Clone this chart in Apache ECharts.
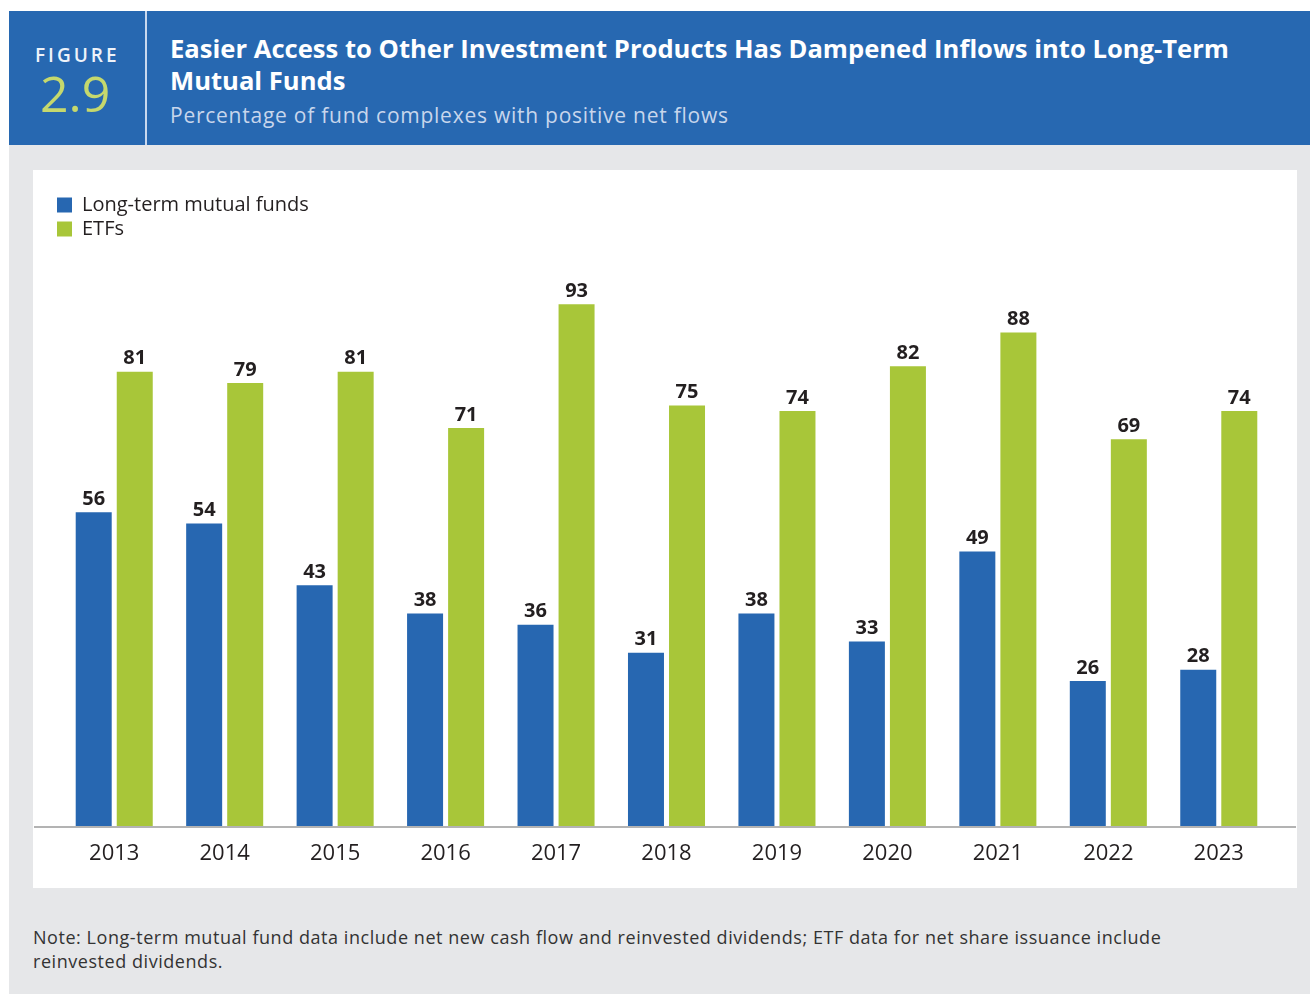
<!DOCTYPE html>
<html>
<head>
<meta charset="utf-8">
<script src="https://cdn.jsdelivr.net/npm/echarts@6/dist/echarts.min.js"></script>
<style>
  body { margin: 0; width: 1310px; height: 994px; background: #fff; font-family: 'Open Sans', sans-serif; position: relative; overflow: hidden; }
  .header { position: absolute; left: 9px; top: 11px; width: 1301px; height: 134px; background: #2768b1; }
  .fig { position: absolute; left: 0; top: 0; width: 136px; height: 134px; border-right: 2px solid #c9d8ee; }
  .fig .lbl { position: absolute; left: 26px; top: 31px; color: #eef3fa; font-size: 19px; letter-spacing: 3px; font-weight: 600; }
  .fig .num { position: absolute; left: 31px; top: 48px; color: #c5d86d; font-size: 50px; }
  .title { position: absolute; left: 161px; top: 22px; color: #fff; font-size: 25.6px; font-weight: 700; line-height: 32px; }
  .sub { position: absolute; left: 161px; top: 90px; color: #c8d6ec; font-size: 21px; letter-spacing: 0.75px; }
  .bg { position: absolute; left: 9px; top: 145px; width: 1301px; height: 849px; background: #e6e7e9; }
  #chart { position: absolute; left: 33px; top: 170px; width: 1264px; height: 718px; background: #fff; }
  .note { position: absolute; left: 33px; top: 925px; color: #333; font-size: 18px; letter-spacing: 0.55px; line-height: 24px; width: 1165px; }
</style>
</head>
<body>
<div class="header">
  <div class="fig"><div class="lbl">FIGURE</div><div class="num">2.9</div></div>
  <div class="title">Easier Access to Other Investment Products Has Dampened Inflows into Long-Term<br>Mutual Funds</div>
  <div class="sub">Percentage of fund complexes with positive net flows</div>
</div>
<div class="bg"></div>
<div id="chart"></div>
<div class="note">Note: Long-term mutual fund data include net new cash flow and reinvested dividends; ETF data for net share issuance include reinvested dividends.</div>
<script>
const years = ['2013', '2014', '2015', '2016', '2017', '2018', '2019', '2020', '2021', '2022', '2023']
const mutualFunds = [56, 54, 43, 38, 36, 31, 38, 33, 49, 26, 28]
const etfs = [81, 79, 81, 71, 93, 75, 74, 82, 88, 69, 74]

const chart = echarts.init(document.getElementById('chart'))
const labelStyle = {
  show: true,
  position: 'top',
  distance: 3,
  color: '#231f20',
  fontSize: 20,
  fontWeight: 'bold',
  fontFamily: 'Open Sans'
}
chart.setOption({
  animation: false,
  textStyle: { fontFamily: 'Open Sans' },
  legend: {
    orient: 'vertical',
    left: 19,
    top: 20,
    itemWidth: 15,
    itemHeight: 15,
    itemGap: 4,
    icon: 'rect',
    textStyle: { color: '#231f20', fontSize: 20, padding: [0, 0, 0, 5] },
    data: ['Long-term mutual funds', 'ETFs']
  },
  grid: {
    left: 26,
    right: 23,
    top: 95,
    bottom: 61
  },
  xAxis: {
    type: 'category',
    data: years,
    axisLine: { show: false },
    axisTick: { show: false },
    axisLabel: { color: '#231f20', fontSize: 22, margin: 16 }
  },
  yAxis: {
    type: 'value',
    min: 0,
    max: 100,
    show: false
  },
  graphic: [
    {
      type: 'rect',
      left: 1,
      bottom: 60,
      shape: { width: 1262, height: 2 },
      style: { fill: '#b3b3b3' },
      z: 10
    }
  ],
  series: [
    {
      name: 'Long-term mutual funds',
      type: 'bar',
      barWidth: 36,
      barGap: '14%',
      itemStyle: { color: '#2767b1' },
      label: labelStyle,
      data: mutualFunds
    },
    {
      name: 'ETFs',
      type: 'bar',
      barWidth: 36,
      barGap: '14%',
      itemStyle: { color: '#a8c639' },
      label: labelStyle,
      data: etfs
    }
  ]
})
</script>
</body>
</html>
